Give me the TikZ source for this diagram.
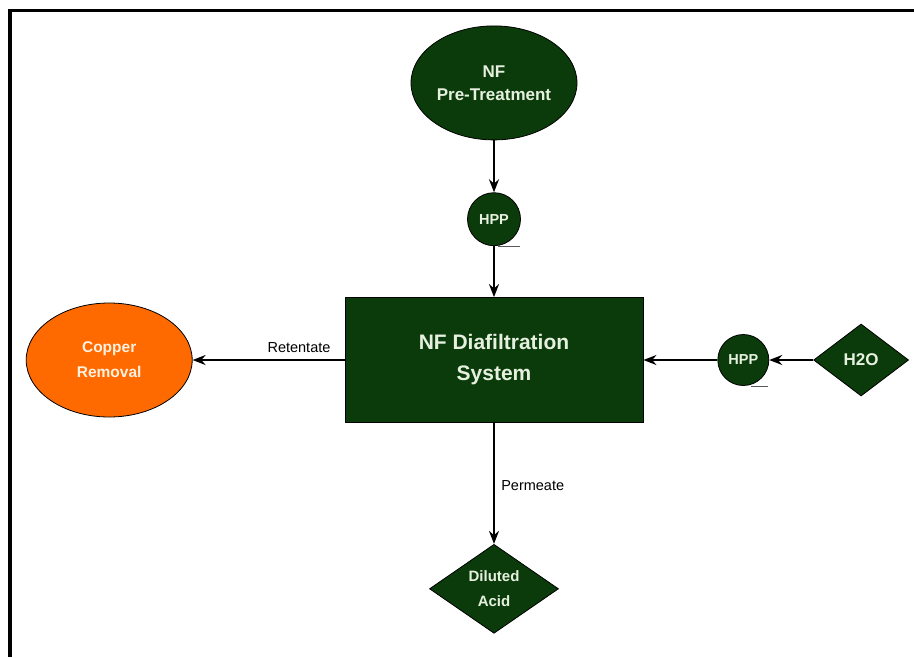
\documentclass[tikz,border=0pt]{standalone}
\usepackage{fontspec}
\setmainfont{Liberation Sans}
\usepackage{tikz}
\usetikzlibrary{arrows.meta,positioning,shapes.geometric}
\usepackage{xcolor}
\definecolor{nfgreen}{HTML}{0B3B0B}
\definecolor{nforange}{HTML}{FF6A00}
\definecolor{nftext}{HTML}{E6F0DE}

\begin{document}
\begin{tikzpicture}[
    x=1pt,y=-1pt,
    unit/.style={draw=black,line width=0.8pt,fill=nfgreen,text=nftext,align=center,inner sep=0pt},
    feed/.style={unit,ellipse,minimum width=166pt,minimum height=114pt,font=\bfseries\fontsize{17}{23}\selectfont},
    pump/.style={unit,circle,minimum size=53pt,font=\bfseries\fontsize{14.5}{16}\selectfont},
    stream/.style={unit,diamond,aspect=1.4,font=\bfseries\fontsize{15}{25}\selectfont},
    flow/.style={-{Stealth[length=13pt,width=10pt]},line width=1.9pt},
    label/.style={font=\fontsize{14.5}{16}\selectfont}
]
\useasboundingbox (0,0) rectangle (914,657);
% frame
\draw[line width=3.5pt] (10,657) -- (10,10.5) -- (914,10.5);

\node[unit,rectangle,minimum width=298pt,minimum height=125pt,font=\bfseries\fontsize{21}{31}\selectfont] (sys) at (494,360) {NF Diafiltration\\System};
\node[pump,above=51pt of sys] (hpp1) {HPP};
\node[feed,above=52pt of hpp1] (pre) {NF\\Pre-Treatment};
\node[feed,fill=nforange,text=white!88!orange,font=\bfseries\fontsize{15.5}{25}\selectfont,left=152pt of sys] (cu) {Copper\\Removal};
\node[pump,minimum size=51pt,right=74pt of sys] (hpp2) {HPP};
\node[stream,minimum width=95pt,minimum height=72pt,font=\bfseries\fontsize{17}{20}\selectfont,right=44pt of hpp2] (water) {H2O};
\node[stream,minimum width=129pt,minimum height=89pt,below=121pt of sys] (acid) {Diluted\\Acid};

% pump base lines
\draw[line width=0.8pt,black!65] ([xshift=4pt]hpp1.south) -- ++(22,0);
\draw[line width=0.8pt,black!65] ([xshift=8pt]hpp2.south) -- ++(17,0);

\draw[flow] (pre) -- (hpp1);
\draw[flow] (hpp1) -- (sys);
\draw[flow] (sys) -- node[pos=0.3,above=3pt,label] {Retentate} (cu);
\draw[flow] (water) -- (hpp2);
\draw[flow] (hpp2) -- (sys);
\draw[flow] (sys) -- node[pos=0.52,right=3pt,label] {Permeate} (acid);

\end{tikzpicture}
\end{document}
